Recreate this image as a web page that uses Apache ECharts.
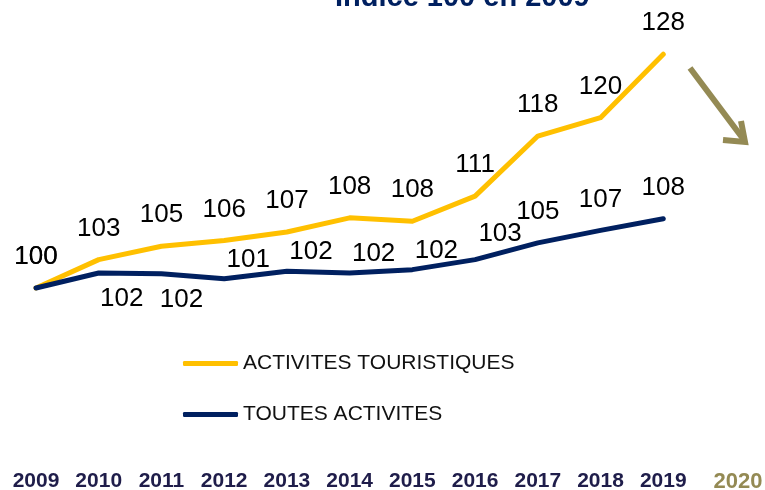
<!DOCTYPE html>
<html>
<head>
<meta charset="utf-8">
<script src="https://cdn.jsdelivr.net/npm/echarts@6/dist/echarts.min.js"></script>
<style>
  html, body { margin: 0; padding: 0; background: #fff; }
  #chart { width: 765px; height: 490px; }
</style>
</head>
<body>
<div id="chart"></div>
<script>
// index, base 100 in 2009
const years = ['2009', '2010', '2011', '2012', '2013', '2014', '2015', '2016', '2017', '2018', '2019', '2020']
const tourisme = [100, 103.4, 105.0, 105.7, 106.7, 108.4, 108.0, 111.0, 118.2, 120.4, 128.0]
const toutes = [100, 101.8, 101.7, 101.1, 102.0, 101.8, 102.2, 103.4, 105.4, 106.9, 108.3]
const seriesNames = ['ACTIVITES TOURISTIQUES', 'TOUTES ACTIVITES']

// label placement per point (styling only)
const toutesLabelPos = ['top', 'bottom', 'bottom', 'top', 'top', 'top', 'top', 'top', 'top', 'top', 'top']
const toutesLabelOffset = [[0, 0], [23, -5], [20, -5], [24, 12], [24, 12], [24, 12], [24, 12], [25, 5], [0, 0], [0, 0], [0, 0]]

const chart = echarts.init(document.getElementById('chart'))

const labelFont = {
  fontFamily: 'Liberation Sans',
  fontSize: 26,
  color: '#000'
}

const option = {
  animation: false,
  title: {
    text: 'Indice 100 en 2009',
    left: 330,
    top: -22,
    textStyle: { fontFamily: 'Liberation Sans', fontWeight: 'bold', fontSize: 29, color: '#002060' }
  },
  grid: { left: 36, right: 39, top: 20, bottom: 20, outerBoundsMode: 'none' },
  legend: {
    orient: 'vertical',
    left: 183,
    top: 353,
    padding: 0,
    icon: 'roundRect',
    itemWidth: 55,
    itemHeight: 5,
    itemGap: 30,
    textStyle: { fontFamily: 'Liberation Sans', fontSize: 21, color: '#111' },
    data: seriesNames
  },
  xAxis: {
    type: 'category',
    data: years,
    boundaryGap: false,
    axisLine: { show: false },
    axisTick: { show: false },
    axisLabel: {
      interval: 0,
      margin: 1,
      showMaxLabel: true,
      fontFamily: 'Liberation Sans',
      fontWeight: 'bold',
      fontSize: 21,
      color: '#1f1d4a',
      formatter: (v) => v === '2020' ? '{hi|' + v + '}' : v,
      rich: {
        hi: { fontFamily: 'Liberation Sans', fontWeight: 'bold', fontSize: 22, color: '#948a54', padding: [0, 0, 4, 24] }
      }
    }
  },
  yAxis: {
    type: 'value',
    min: 78.2,
    max: 132.1,
    show: false,
    splitLine: { show: false }
  },
  series: [
    {
      name: seriesNames[0],
      type: 'line',
      data: tourisme,
      symbol: 'circle',
      symbolSize: 0,
      showSymbol: true,
      clip: false,
      itemStyle: { color: '#ffc000' },
      lineStyle: { color: '#ffc000', width: 5, cap: 'round', join: 'round' },
      label: { show: true, position: 'top', distance: 18, formatter: (p) => Math.round(p.value), ...labelFont }
    },
    {
      name: seriesNames[1],
      type: 'line',
      data: toutes.map((v, i) => ({
        value: v,
        label: { position: toutesLabelPos[i], offset: toutesLabelOffset[i] }
      })),
      symbol: 'circle',
      symbolSize: 0,
      showSymbol: true,
      clip: false,
      itemStyle: { color: '#002060' },
      lineStyle: { color: '#002060', width: 5, cap: 'round', join: 'round' },
      label: { show: true, position: 'top', distance: 18, formatter: (p) => Math.round(p.value), ...labelFont }
    }
  ],
  graphic: [
    {
      type: 'group',
      silent: true,
      children: [
        { type: 'line', shape: { x1: 690, y1: 68, x2: 744, y2: 140 }, style: { stroke: '#948a54', lineWidth: 6 } },
        { type: 'polyline', shape: { points: [[741, 121], [745, 142], [723, 140]] }, style: { stroke: '#948a54', lineWidth: 6, fill: null, lineJoin: 'miter' } }
      ]
    }
  ]
}

chart.setOption(option)
</script>
</body>
</html>
